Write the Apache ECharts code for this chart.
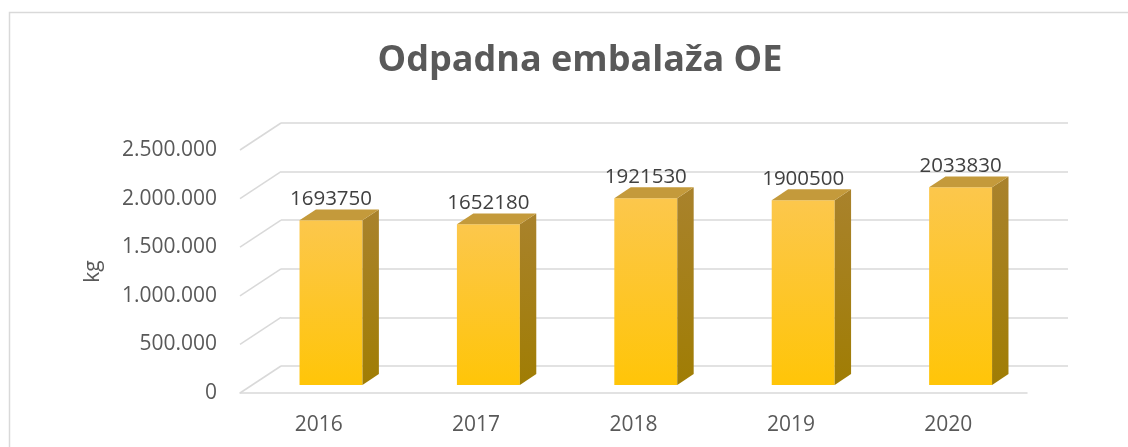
<!DOCTYPE html>
<html>
<head>
<meta charset="utf-8">
<script src="https://cdn.jsdelivr.net/npm/echarts@6/dist/echarts.min.js"></script>
<style>
  html, body { margin: 0; padding: 0; background: #ffffff; }
  #chart { width: 1128px; height: 447px; }
</style>
</head>
<body>
<div id="chart"></div>
<script>
// Yearly totals of waste packaging (kg)
const categories = ['2016', '2017', '2018', '2019', '2020'];
const values = [1693750, 1652180, 1921530, 1900500, 2033830];
const yTicks = [0, 500000, 1000000, 1500000, 2000000, 2500000];

// Depth of the pseudo-3D box (pixels from front plane to back wall)
const DEPTH_X = 41;
const DEPTH_Y = -27;
// Bars sit between 30% and 70% of the depth
const BAR_FRONT = 0.3;
const BAR_DEPTH = 0.4;
const BAR_WIDTH = 0.4;

const FONT = '"Open Sans", "DejaVu Sans", sans-serif';
const GRID_COLOR = '#d9d9d9';

const front = { left: 240, right: 101, top: 150, bottom: 54 };
const back = {
  left: front.left + DEPTH_X,
  right: front.right - DEPTH_X,
  top: front.top + DEPTH_Y,
  bottom: front.bottom - DEPTH_Y
};

function dotted(v) {
  return String(v).replace(/\B(?=(\d{3})+(?!\d))/g, '.');
}

function renderWall(params, api) {
  const cs = params.coordSys;
  const y = api.coord([0, api.value(1)])[1];
  return {
    type: 'line',
    silent: true,
    shape: { x1: cs.x, y1: y, x2: cs.x + DEPTH_X, y2: y + DEPTH_Y },
    style: { stroke: GRID_COLOR, lineWidth: 1.5 }
  };
}

function renderBar(params, api) {
  const i = api.value(0);
  const v = api.value(1);
  const base = api.coord([i, 0]);
  const top = api.coord([i, v]);
  const w = api.size([1, 0])[0] * BAR_WIDTH;
  const ox = DEPTH_X * BAR_FRONT, oy = DEPTH_Y * BAR_FRONT;
  const sx = DEPTH_X * BAR_DEPTH, sy = DEPTH_Y * BAR_DEPTH;
  const x0 = base[0] + ox - w / 2;
  const x1 = x0 + w;
  const yb = base[1] + oy;
  const yt = top[1] + oy;
  return {
    type: 'group',
    children: [
      {
        type: 'polygon',
        shape: { points: [[x0, yt], [x1, yt], [x1, yb], [x0, yb]] },
        style: {
          fill: new echarts.graphic.LinearGradient(0, 0, 0, 1, [
            { offset: 0, color: '#fcc74c' },
            { offset: 1, color: '#ffc508' }
          ])
        }
      },
      {
        type: 'polygon',
        shape: { points: [[x1, yt], [x1 + sx, yt + sy], [x1 + sx, yb + sy], [x1, yb]] },
        style: {
          fill: new echarts.graphic.LinearGradient(0, 0, 0, 1, [
            { offset: 0, color: '#a9822c' },
            { offset: 1, color: '#a07d04' }
          ])
        }
      },
      {
        type: 'polygon',
        shape: { points: [[x0, yt], [x1, yt], [x1 + sx, yt + sy], [x0 + sx, yt + sy]] },
        style: { fill: '#c49a3b' }
      },
      {
        type: 'text',
        style: {
          text: String(v),
          x: x0 + w / 2,
          y: yt + sy - 10,
          align: 'center',
          verticalAlign: 'middle',
          font: '20.5px ' + FONT,
          fill: '#404040'
        }
      }
    ]
  };
}

const chart = echarts.init(document.getElementById('chart'), null, { renderer: 'canvas' });
chart.setOption({
  animation: false,
  backgroundColor: '#ffffff',
  title: {
    text: 'Odpadna embalaža OE',
    left: 575,
    top: 38,
    textAlign: 'center',
    textStyle: { fontFamily: FONT, fontWeight: 'bold', fontSize: 36, color: '#595959' }
  },
  graphic: [
    {
      type: 'rect',
      silent: true,
      shape: { x: 9.5, y: 12.5, width: 1200, height: 500 },
      style: { fill: null, stroke: GRID_COLOR, lineWidth: 1.5 },
      z: -1
    }
  ],
  grid: [
    Object.assign({ containLabel: false }, front),
    Object.assign({ containLabel: false }, back)
  ],
  xAxis: [
    {
      gridIndex: 0,
      type: 'category',
      data: categories,
      axisLine: { show: true, lineStyle: { color: GRID_COLOR, width: 1.5 } },
      axisTick: { show: false },
      axisLabel: { fontFamily: FONT, fontSize: 21, color: '#595959', margin: 22 }
    },
    {
      gridIndex: 1,
      type: 'category',
      data: categories,
      show: false
    }
  ],
  yAxis: [
    {
      gridIndex: 0,
      type: 'value',
      min: 0,
      max: 2500000,
      interval: 500000,
      name: 'kg',
      nameLocation: 'middle',
      nameGap: 136,
      nameTextStyle: { fontFamily: FONT, fontSize: 21, color: '#595959' },
      axisLine: { show: false },
      axisTick: { show: false },
      splitLine: { show: false },
      axisLabel: {
        fontFamily: FONT, fontSize: 21, color: '#595959', margin: 23,
        padding: [4, 0, 0, 0],
        formatter: dotted
      }
    },
    {
      gridIndex: 1,
      type: 'value',
      min: 0,
      max: 2500000,
      interval: 500000,
      axisLine: { show: false },
      axisTick: { show: false },
      axisLabel: { show: false },
      splitLine: { show: true, lineStyle: { color: GRID_COLOR, width: 1.5 } }
    }
  ],
  series: [
    {
      type: 'custom',
      xAxisIndex: 0,
      yAxisIndex: 0,
      renderItem: renderWall,
      data: yTicks.map(v => [0, v]),
      silent: true,
      z: 1
    },
    {
      type: 'custom',
      xAxisIndex: 0,
      yAxisIndex: 0,
      renderItem: renderBar,
      data: values.map((v, i) => [i, v]),
      z: 3
    }
  ]
});
</script>
</body>
</html>
